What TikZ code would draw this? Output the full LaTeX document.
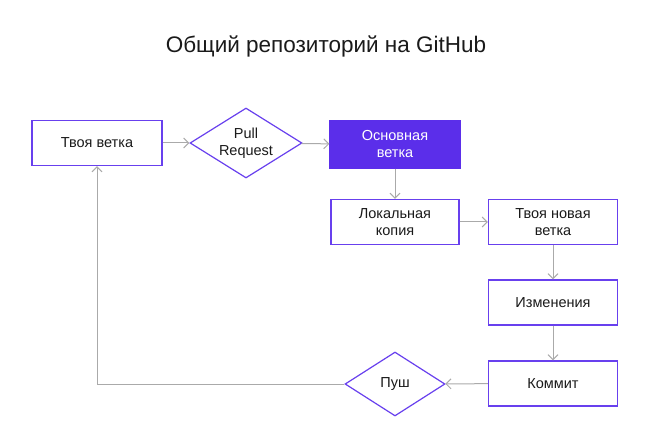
\documentclass[tikz,border=0pt]{standalone}
\usepackage{fontspec}
\setmainfont{Liberation Sans}
\usetikzlibrary{positioning}
\usetikzlibrary{arrows.meta}
\usetikzlibrary{shapes.geometric}
\definecolor{violet}{RGB}{104,64,238}
\definecolor{mainfill}{RGB}{91,46,234}
\definecolor{linegray}{RGB}{170,170,170}
\definecolor{ink}{RGB}{26,26,26}

\begin{document}
\begin{tikzpicture}[
    x=1pt, y=-1pt,
    stepbox/.style={rectangle, draw=violet, line width=1.2pt, fill=white,
        minimum width=130pt, minimum height=45pt, inner sep=0pt, text=ink,
        align=center, font=\fontsize{14.5}{17}\selectfont},
    mainbox/.style={stepbox, fill=mainfill, draw=mainfill, text=white},
    choice/.style={diamond, shape aspect=1.6, draw=violet, line width=1.2pt, fill=white,
        inner sep=0pt, align=center, text=ink, font=\fontsize{14.5}{17}\selectfont},
    link/.style={draw=linegray, line width=1pt, -{Straight Barb[length=5pt,width=10pt]}}
]
    \useasboundingbox (0,0) rectangle (655,427);

    \node[font=\fontsize{22.5}{26}\selectfont, text=ink] (title) at (326,46) {Общий репозиторий на GitHub};

    \node[stepbox] (yours) at (97,143) {Твоя ветка};
    \node[choice, minimum width=112pt, minimum height=70pt] (pr) at (246,143) {Pull\\Request};
    \node[mainbox, minimum height=47pt] (main) at (395,144.5) {Основная\\ветка};

    \node[stepbox, minimum width=128pt] (local) at (395,222) {Локальная\\копия};
    \node[stepbox, minimum width=129pt] (newbr) at (553,222) {Твоя новая\\ветка};
    \node[stepbox, minimum width=129pt] (edits) at (553,302.5) {Изменения};
    \node[stepbox, minimum width=129pt] (commit) at (553,383.5) {Коммит};
    \node[choice, minimum width=100pt, minimum height=64pt] (push) at (395,384) {Пуш};

    \coordinate (corner) at (97,384);

    \draw[link] (yours) -- (pr);
    \draw[link] (pr) -- (main);
    \draw[link] (main) -- (local);
    \draw[link] (local) -- (newbr);
    \draw[link] (newbr) -- (edits);
    \draw[link] (edits) -- (commit);
    \draw[link] (commit) -- (push);
    \draw[link] (push.west) -- (corner) -- (yours.south);
\end{tikzpicture}
\end{document}
